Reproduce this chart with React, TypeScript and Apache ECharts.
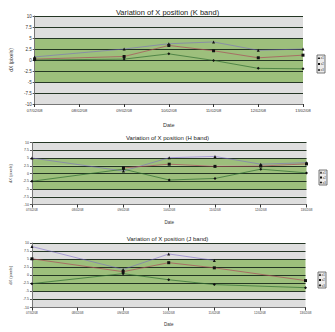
import React, { useEffect, useRef } from "react";
import * as echarts from "echarts";

const dates = ["07/02/08", "08/02/08", "09/02/08", "10/02/08", "11/02/08", "12/02/08", "13/02/08"];

const kSeries1 = [0.7, null, 2.5, 3.7, 4.1, 2.2, 2.5];
const kSeries2 = [0.2, null, 0.8, 3.3, 2.1, 0.5, 1.1];
const kSeries3 = [0.0, null, 0.2, 1.4, -0.1, -1.9, -2.0];

const hSeries1 = [5.0, null, 0.8, 5.1, 5.5, 3.0, 3.5];
const hSeries2 = [null, null, 1.8, 3.0, 2.3, 2.4, 3.1];
const hSeries3 = [-2.5, null, 1.4, -2.1, -1.6, 1.4, 0.2];

const jSeries1 = [8.9, null, 1.8, 6.6, 4.6, null, null];
const jSeries2 = [5.1, null, 1.1, 3.9, 2.3, null, -1.65];
const jSeries3 = [-2.6, null, 0.5, -1.4, -2.9, null, -3.85];

const legendNames = ["x1", "x2", "x3"];
const lineColors = ["rgba(120,100,200,0.6)", "rgba(170,80,90,0.8)", "rgba(50,110,50,0.8)"];
const symbols = ["triangle", "rect", "diamond"];

const GRAY = "#dedede";
const GREEN = "#9dbf7c";

const panels = [
  {
    title: "Variation of X position (K band)",
    data: [kSeries1, kSeries2, kSeries3],
    grid: { left: 31, top: 16, width: 272, height: 88 },
    titleTop: 3,
    titleSize: 7.5,
    nameGapY: 19,
    nameGapX: 18,
    axisFont: 4.5,
    legend: { x: 317, y: 55, w: 8, h: 18 },
  },
  {
    title: "Variation of X position (H band)",
    data: [hSeries1, hSeries2, hSeries3],
    grid: { left: 27.5, top: 142.5, width: 279, height: 62 },
    titleTop: 130,
    titleSize: 6,
    nameGapY: 15,
    nameGapX: 15,
    axisFont: 3.5,
    legend: { x: 319, y: 170, w: 8, h: 15 },
  },
  {
    title: "Variation of X position (J band)",
    data: [jSeries1, jSeries2, jSeries3],
    grid: { left: 28, top: 243, width: 277.5, height: 64.5 },
    titleTop: 231,
    titleSize: 6,
    nameGapY: 15,
    nameGapX: 14,
    axisFont: 3.5,
    legend: { x: 318, y: 272, w: 8, h: 16 },
  },
];

function legendGraphic(l: { x: number; y: number; w: number; h: number }) {
  const children: any[] = [
    {
      type: "rect",
      shape: { x: l.x, y: l.y, width: l.w, height: l.h },
      style: { fill: "#ececec", stroke: "#555", lineWidth: 0.8 },
    },
  ];
  const step = l.h / 3;
  legendNames.forEach((n, i) => {
    const cy = l.y + step * i + step / 2;
    const cx = l.x + 2;
    if (symbols[i] === "triangle") {
      children.push({ type: "polygon", shape: { points: [[cx, cy - 1.3], [cx + 1.3, cy + 1], [cx - 1.3, cy + 1]] }, style: { fill: "#111" } });
    } else if (symbols[i] === "rect") {
      children.push({ type: "rect", shape: { x: cx - 1, y: cy - 1, width: 2, height: 2 }, style: { fill: "#111" } });
    } else {
      children.push({ type: "polygon", shape: { points: [[cx, cy - 1.3], [cx + 1.3, cy], [cx, cy + 1.3], [cx - 1.3, cy]] }, style: { fill: "#111" } });
    }
    children.push({
      type: "text",
      style: { x: l.x + 3.8, y: cy, text: n, fontSize: 2.8, fill: "#333", verticalAlign: "middle", fontFamily: "Liberation Sans" },
    });
  });
  return { type: "group", children };
}

export default function App() {
  const ref = useRef<HTMLDivElement>(null);
  useEffect(() => {
    if (!ref.current) return;
    const chart = echarts.init(ref.current, null, { renderer: "svg" });
    const option: any = {
      animation: false,
      backgroundColor: "#ffffff",
      textStyle: { fontFamily: "Liberation Sans" },
      title: panels.map((p) => ({
        text: p.title,
        left: "center",
        top: p.titleTop,
        textStyle: { fontSize: p.titleSize, fontWeight: "normal", color: "#222", fontFamily: "Liberation Sans" },
      })),
      grid: panels.map((p) => ({ ...p.grid, show: false })),
      xAxis: panels.map((p, i) => ({
        gridIndex: i,
        type: "category",
        data: dates,
        boundaryGap: false,
        axisLine: { show: true, onZero: false, lineStyle: { color: "#777", width: 1 } },
        axisTick: { show: true, length: 3, lineStyle: { color: "#333" } },
        axisLabel: { fontSize: p.axisFont - 0.5, margin: 4, color: "#333" },
        splitLine: { show: false },
        name: "Date",
        nameLocation: "middle",
        nameGap: p.nameGapX,
        nameTextStyle: { fontSize: p.axisFont + 1, color: "#333" },
      })),
      yAxis: panels.map((p, i) => ({
        gridIndex: i,
        type: "value",
        min: -10,
        max: 10,
        interval: 2.5,
        axisLine: { show: true, onZero: false, lineStyle: { color: "#777", width: 1 } },
        axisTick: { show: true, length: 2, lineStyle: { color: "#555" } },
        axisLabel: { fontSize: p.axisFont, margin: 3, color: "#333" },
        splitLine: { show: true, lineStyle: { color: "#243624", width: 1 } },
        splitArea: { show: true, areaStyle: { color: [GRAY, GRAY, GREEN, GREEN, GREEN, GREEN, GRAY, GRAY] } },
        name: "dX (pixels)",
        nameLocation: "middle",
        nameGap: p.nameGapY,
        nameRotate: 90,
        nameTextStyle: { fontSize: p.axisFont + 0.5, color: "#333" },
      })),
      series: panels.flatMap((p, i) =>
        p.data.map((d, j) => ({
          type: "line",
          name: ["K", "H", "J"][i] + legendNames[j],
          xAxisIndex: i,
          yAxisIndex: i,
          data: d.map((v) => (v === null ? "-" : v)),
          connectNulls: true,
          symbol: symbols[j],
          symbolSize: 3,
          itemStyle: { color: "#111" },
          lineStyle: { color: lineColors[j], width: 0.9 },
          z: 3,
        }))
      ),
      graphic: panels.map((p) => legendGraphic(p.legend)),
    };
    chart.setOption(option);
    return () => chart.dispose();
  }, []);
  return <div ref={ref} style={{ position: "absolute", left: 0, top: 0, width: 335, height: 332 }} />;
}
